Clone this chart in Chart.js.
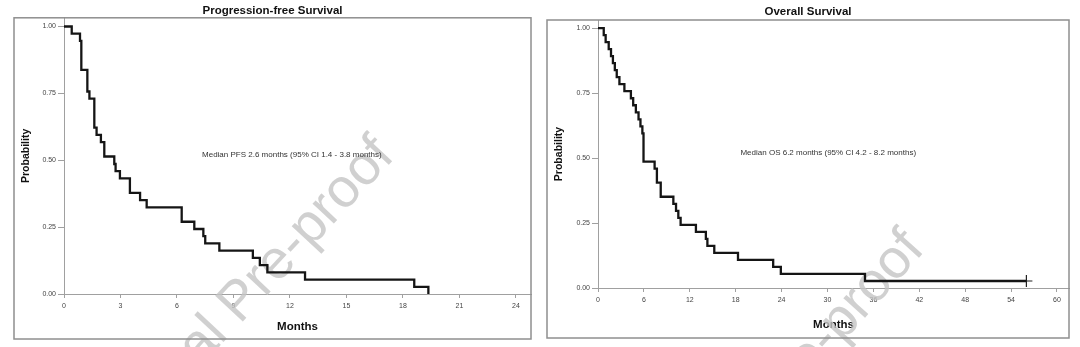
<!DOCTYPE html>
<html>
<head>
<meta charset="utf-8">
<script src="https://cdn.jsdelivr.net/npm/chart.js@4.4.1/dist/chart.umd.min.js"></script>
<style>
  html, body { margin: 0; padding: 0; background: #fff; }
  #wrap { position: relative; width: 1080px; height: 347px; overflow: hidden; }
  .box { position: absolute; top: 0; width: 540px; height: 347px; }
</style>
</head>
<body>
<div id="wrap">
  <div class="box" style="left:0"><canvas id="pfsChart" width="540" height="347"></canvas></div>
  <div class="box" style="left:540px"><canvas id="osChart" width="540" height="347"></canvas></div>
</div>
<script>
// Kaplan-Meier steps: month of each drop and the survival estimate after it
const pfsMonths = [0, 0.41, 0.85, 0.92, 1.24, 1.35, 1.61, 1.73, 1.96, 2.14, 2.67, 2.74, 2.97, 3.5, 4.04, 4.39, 6.25, 6.92, 7.4, 7.5, 8.25, 10.03, 10.4, 10.8, 12.8, 18.6, 19.35];
const pfsProb   = [1, 0.973, 0.946, 0.838, 0.757, 0.730, 0.622, 0.595, 0.568, 0.514, 0.486, 0.459, 0.432, 0.378, 0.351, 0.324, 0.270, 0.243, 0.216, 0.189, 0.162, 0.135, 0.108, 0.081, 0.054, 0.027, 0];

const osMonths = [0, 0.75, 1.0, 1.4, 1.7, 1.95, 2.2, 2.45, 2.8, 3.45, 4.3, 4.6, 4.95, 5.3, 5.55, 5.8, 5.95, 7.4, 7.7, 8.2, 9.85, 10.2, 10.5, 10.8, 12.8, 14.1, 14.3, 15.2, 18.3, 22.9, 23.9, 34.9, 56];
const osProb   = [1, 0.973, 0.946, 0.919, 0.892, 0.865, 0.838, 0.811, 0.784, 0.757, 0.730, 0.703, 0.676, 0.649, 0.622, 0.595, 0.486, 0.459, 0.405, 0.351, 0.324, 0.297, 0.270, 0.243, 0.216, 0.189, 0.162, 0.135, 0.108, 0.081, 0.054, 0.027, 0.027];

// censored observation at the end of follow-up
const osCensorMonths = [56];
const osCensorProb   = [0.027];

const pfsTicks  = [0, 3, 6, 9, 12, 15, 18, 21, 24];
const osTicks   = [0, 6, 12, 18, 24, 30, 36, 42, 48, 54, 60];
const probTicks = [0, 0.25, 0.5, 0.75, 1];

const FONT = "'Liberation Sans', Arial, Helvetica, sans-serif";

// grey box around the plot, from the top of the axes down to the bottom padding
const framePlugin = {
  id: 'frame',
  afterDraw(chart, args, opts) {
    const ctx = chart.ctx;
    const pad = chart.options.layout.padding;
    const a = chart.chartArea;
    ctx.save();
    ctx.strokeStyle = '#8f8f8f';
    ctx.lineWidth = 1.5;
    ctx.strokeRect(pad.left, a.top, a.right - pad.left, chart.height - pad.bottom - a.top);
    ctx.restore();
  }
};

// median text inside the plot
const notePlugin = {
  id: 'note',
  afterDatasetsDraw(chart, args, opts) {
    const ctx = chart.ctx;
    const x = chart.scales.x.getPixelForValue(opts.at[0]);
    const y = chart.scales.y.getPixelForValue(opts.at[1]);
    ctx.save();
    ctx.font = '8px ' + FONT;
    ctx.fillStyle = '#333';
    ctx.textAlign = 'center';
    ctx.textBaseline = 'middle';
    ctx.fillText(opts.text, x, y);
    ctx.restore();
  }
};

// diagonal watermark
const stampPlugin = {
  id: 'stamp',
  beforeDatasetsDraw(chart, args, opts) {
    const ctx = chart.ctx;
    ctx.save();
    ctx.translate(opts.x, opts.y);
    ctx.rotate(opts.angle * Math.PI / 180);
    ctx.font = '55px ' + FONT;
    ctx.fillStyle = 'rgba(196,196,196,0.8)';
    ctx.textAlign = 'right';
    ctx.textBaseline = 'alphabetic';
    ctx.fillText('Journal Pre-proof', 0, 0);
    ctx.restore();
  }
};

function kmPoints(months, prob) {
  return months.map((m, i) => ({ x: m, y: prob[i] }));
}

function makeChart(id, cfg) {
  const datasets = [{
    data: kmPoints(cfg.months, cfg.prob),
    stepped: true,
    borderColor: '#151515',
    borderWidth: 2.3,
    pointRadius: 0,
    fill: false
  }];
  if (cfg.censorMonths) {
    datasets.push({
      data: kmPoints(cfg.censorMonths, cfg.censorProb),
      showLine: false,
      pointStyle: 'cross',
      pointRadius: 6,
      pointBorderWidth: 1.2,
      borderColor: '#222'
    });
  }
  return new Chart(document.getElementById(id), {
    type: 'line',
    data: { datasets: datasets },
    options: {
      responsive: false,
      animation: false,
      devicePixelRatio: 1,
      layout: { padding: cfg.padding },
      plugins: {
        legend: { display: false },
        tooltip: { enabled: false },
        title: {
          display: true,
          text: cfg.title,
          color: '#111',
          font: { family: FONT, size: 11.5, weight: 'bold' },
          padding: cfg.titlePad
        },
        note: { text: cfg.note, at: cfg.noteAt },
        stamp: cfg.stamp
      },
      scales: {
        x: {
          type: 'linear',
          min: 0,
          max: cfg.xMax,
          afterBuildTicks: s => { s.ticks = cfg.xTicks.map(v => ({ value: v })); },
          afterFit: s => { s.height = cfg.xAxisHeight; },
          grid: { drawOnChartArea: false, drawTicks: true, tickLength: 4, color: '#a0a0a0' },
          border: { display: true, color: '#a0a0a0', width: 1 },
          ticks: { color: '#444', font: { family: FONT, size: 7 }, padding: 4, maxRotation: 0, autoSkip: false },
          title: {
            display: true,
            text: 'Months',
            color: '#111',
            font: { family: FONT, size: 11.5, weight: 'bold' },
            padding: { top: 0, bottom: cfg.xTitlePad }
          }
        },
        y: {
          type: 'linear',
          min: 0,
          max: cfg.yMax,
          afterBuildTicks: s => { s.ticks = probTicks.map(v => ({ value: v })); },
          afterFit: s => { s.width = cfg.yAxisWidth; },
          grid: { drawOnChartArea: false, drawTicks: true, tickLength: 6, color: '#a0a0a0' },
          border: { display: true, color: '#a0a0a0', width: 1 },
          ticks: { color: '#444', font: { family: FONT, size: 7 }, padding: 2, callback: v => v.toFixed(2) },
          title: {
            display: true,
            text: 'Probability',
            color: '#111',
            font: { family: FONT, size: 10.5, weight: 'bold' },
            padding: { top: 5.7, bottom: 0 }
          }
        }
      }
    },
    plugins: [framePlugin, notePlugin, stampPlugin]
  });
}

makeChart('pfsChart', {
  title: 'Progression-free Survival',
  months: pfsMonths,
  prob: pfsProb,
  xTicks: pfsTicks,
  xMax: 24.8,
  yMax: 1.0325,
  padding: { left: 14, right: 9, top: 0, bottom: 8 },
  titlePad: { top: 4, bottom: 0 },
  xAxisHeight: 45,
  yAxisWidth: 50,
  xTitlePad: 5,
  note: 'Median PFS 2.6 months (95% CI 1.4 - 3.8 months)',
  noteAt: [12.1, 0.52],
  stamp: { x: 396, y: 157, angle: -47 }
});

makeChart('osChart', {
  title: 'Overall Survival',
  months: osMonths,
  prob: osProb,
  censorMonths: osCensorMonths,
  censorProb: osCensorProb,
  xTicks: osTicks,
  xMax: 61.57,
  yMax: 1.031,
  padding: { left: 7, right: 11, top: 0, bottom: 9 },
  titlePad: { top: 5, bottom: 1.2 },
  xAxisHeight: 50,
  yAxisWidth: 51,
  xTitlePad: 6,
  note: 'Median OS 6.2 months (95% CI 4.2 - 8.2 months)',
  noteAt: [30.1, 0.52],
  stamp: { x: 386, y: 250, angle: -48 }
});
</script>
</body>
</html>
